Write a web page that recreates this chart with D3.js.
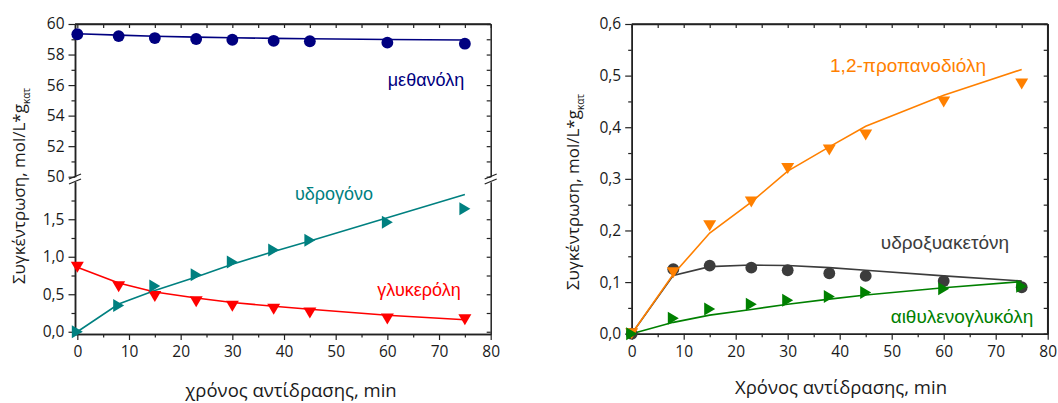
<!DOCTYPE html>
<html>
<head>
<meta charset="utf-8">
<script src="https://cdn.jsdelivr.net/npm/d3@7"></script>
<style>
  body { margin: 0; background: #fff; }
  svg { display: block; }
</style>
</head>
<body>
<script>
// sampling times (min), same for both panels
var times = [0, 8, 15, 23, 30, 38, 45, 60, 75];

// left panel
var methanol = [59.33, 59.21, 59.08, 59.02, 58.97, 58.90, 58.87, 58.78, 58.71];
var methanolFit = [59.36, 59.27, 59.20, 59.14, 59.10, 59.06, 59.03, 58.98, 58.95];
var hydrogen = [0.0, 0.35, 0.61, 0.76, 0.93, 1.09, 1.22, 1.46, 1.64];
var hydrogenFit = [0.0, 0.37, 0.55, 0.73, 0.90, 1.07, 1.21, 1.52, 1.83];
var glycerol = [0.86, 0.60, 0.47, 0.40, 0.34, 0.30, 0.25, 0.17, 0.16];
var glycerolFit = [0.86, 0.65, 0.53, 0.45, 0.39, 0.34, 0.30, 0.22, 0.16];

// right panel
var propanediol = [0, 0.118, 0.209, 0.255, 0.320, 0.356, 0.385, 0.449, 0.484];
var propanediolFit = [0, 0.115, 0.195, 0.255, 0.315, 0.362, 0.402, 0.462, 0.512];
var hydroxyacetone = [0, 0.125, 0.132, 0.128, 0.123, 0.117, 0.112, 0.102, 0.090];
var hydroxyacetoneFit = [0, 0.113, 0.130, 0.133, 0.132, 0.128, 0.123, 0.112, 0.102];
var ethyleneGlycol = [0, 0.030, 0.048, 0.057, 0.065, 0.072, 0.080, 0.087, 0.092];
var ethyleneGlycolFit = [0, 0.022, 0.036, 0.047, 0.057, 0.067, 0.075, 0.089, 0.101];

// ticks
var xTicks = [0, 10, 20, 30, 40, 50, 60, 70, 80];
var xMinor = [5, 15, 25, 35, 45, 55, 65, 75];
var topTicks = [50, 52, 54, 56, 58, 60];
var topMinor = [51, 53, 55, 57, 59];
var bottomTicks = [0, 0.5, 1.0, 1.5];
var bottomMinor = [0.25, 0.75, 1.25, 1.75];
var rightTicks = [0, 0.1, 0.2, 0.3, 0.4, 0.5, 0.6];
var rightMinor = [0.05, 0.15, 0.25, 0.35, 0.45, 0.55];

var tickFont = "'Open Sans', sans-serif";
var labelFont = "'Liberation Sans', Arial, sans-serif";
var comma = function(d) { return d3.format(".1f")(d).replace(".", ","); };

var svg = d3.select("body").append("svg")
    .attr("width", 1058)
    .attr("height", 403);

svg.append("rect").attr("width", 1058).attr("height", 403).attr("fill", "#fff");

// scales
var xLeft = d3.scaleLinear().domain([-0.45, 80]).range([75, 490.7]);
var yTop = d3.scaleLinear().domain([50, 60]).range([176.7, 24]);
var yBottom = d3.scaleLinear().domain([-0.03, 2.0]).range([334, 181.75]);
var xRight = d3.scaleLinear().domain([0, 80]).range([631.7, 1047.7]);
var yRight = d3.scaleLinear().domain([0, 0.6]).range([333.7, 24]);

function styleAxis(g, labels) {
  g.select(".domain").attr("stroke", "#222").attr("stroke-width", 1.5);
  g.selectAll(".tick line").attr("stroke", "#222").attr("stroke-width", 1.2);
  g.selectAll("text")
    .attr("font-family", tickFont)
    .attr("font-size", "15.5px")
    .attr("fill", "#1a1a1a");
  if (!labels) g.selectAll("text").remove();
}

function drawAxis(axis, tx, ty, labels) {
  var g = svg.append("g")
      .attr("transform", "translate(" + tx + "," + ty + ")")
      .call(axis);
  styleAxis(g, labels);
  return g;
}

function xAxes(x, yPos, yTopPos) {
  drawAxis(d3.axisBottom(x).tickValues(xTicks).tickSize(6).tickSizeOuter(0).tickPadding(6), 0, yPos, true);
  drawAxis(d3.axisBottom(x).tickValues(xMinor).tickSize(3.5).tickSizeOuter(0).tickFormat(""), 0, yPos, false);
  // mirror ticks on the top frame, pointing inward
  drawAxis(d3.axisBottom(x).tickValues(xTicks.concat(xMinor)).tickSize(4).tickSizeOuter(0).tickFormat(""), 0, yTopPos, false);
}

function yAxes(y, major, minor, xPos, xRightPos, fmt) {
  drawAxis(d3.axisLeft(y).tickValues(major).tickSize(6.5).tickSizeOuter(0).tickPadding(4).tickFormat(fmt), xPos, 0, true);
  drawAxis(d3.axisLeft(y).tickValues(minor).tickSize(3.5).tickSizeOuter(0).tickFormat(""), xPos, 0, false);
  // mirror ticks on the right frame, pointing inward
  drawAxis(d3.axisRight(y).tickValues(major.concat(minor)).tickSize(-4).tickSizeOuter(0).tickFormat(""), xRightPos, 0, false);
}

function breakMarks(cx, ys) {
  ys.forEach(function(cy) {
    svg.append("line")
      .attr("x1", cx - 6).attr("y1", cy + 2.5)
      .attr("x2", cx + 6).attr("y2", cy - 2.5)
      .attr("stroke", "#222").attr("stroke-width", 1.3);
  });
}

function fitLine(x, y, values, color) {
  var line = d3.line()
      .x(function(d, i) { return x(times[i]); })
      .y(function(d) { return y(d); });
  svg.append("path")
    .datum(values)
    .attr("d", line)
    .attr("fill", "none")
    .attr("stroke", color)
    .attr("stroke-width", 1.6);
}

function markerPath(shape) {
  if (shape == "down") return "M-6.5,-5.5L6.5,-5.5L0,5.5Z";
  if (shape == "right") return "M-5.5,-6.5L5.5,0L-5.5,6.5Z";
  return d3.symbol().type(d3.symbolCircle).size(110)();
}

function markers(x, y, values, color, shape) {
  svg.append("g").selectAll("path")
    .data(values)
    .enter()
    .append("path")
    .attr("d", markerPath(shape))
    .attr("transform", function(d, i) {
      return "translate(" + x(times[i]) + "," + y(d) + ")";
    })
    .attr("fill", color);
}

function seriesLabel(x, y, text, color, size) {
  svg.append("text")
    .attr("x", x).attr("y", y)
    .attr("text-anchor", "middle")
    .attr("font-family", labelFont)
    .attr("font-size", size + "px")
    .attr("fill", color)
    .text(text);
}

function yTitle(cx, cy) {
  var t = svg.append("text")
    .attr("transform", "translate(" + cx + "," + cy + ") rotate(-90)")
    .attr("text-anchor", "middle")
    .attr("font-family", tickFont)
    .attr("font-size", "17px")
    .attr("fill", "#1a1a1a");
  t.append("tspan").text("Συγκέντρωση, mol/L*g");
  t.append("tspan").attr("font-size", "10px").attr("dy", 5).text("κατ");
}

function xTitle(cx, cy, text) {
  svg.append("text")
    .attr("x", cx).attr("y", cy)
    .attr("text-anchor", "middle")
    .attr("font-family", tickFont)
    .attr("font-size", "18.5px")
    .attr("fill", "#1a1a1a")
    .text(text);
}

// ---------- left panel ----------
var L = xLeft.range();
svg.append("line").attr("x1", L[0]).attr("x2", L[1]).attr("y1", 24).attr("y2", 24)
  .attr("stroke", "#222").attr("stroke-width", 1.5);
xAxes(xLeft, 334, 24);
yAxes(yTop, topTicks, topMinor, L[0], L[1], d3.format("d"));
yAxes(yBottom, bottomTicks, bottomMinor, L[0], L[1], comma);
breakMarks(L[0], [176.5, 181.5]);
breakMarks(L[1], [176.5, 181.5]);

fitLine(xLeft, yTop, methanolFit, "#000080");
fitLine(xLeft, yBottom, hydrogenFit, "#008080");
fitLine(xLeft, yBottom, glycerolFit, "#ff0000");
markers(xLeft, yTop, methanol, "#000080", "circle");
markers(xLeft, yBottom, glycerol, "#ff0000", "down");
markers(xLeft, yBottom, hydrogen, "#008080", "right");

seriesLabel(426, 86, "μεθανόλη", "#000080", 18);
seriesLabel(334, 200, "υδρογόνο", "#008080", 18);
seriesLabel(419, 296, "γλυκερόλη", "#ff0000", 18);

yTitle(25, 186);
xTitle(291, 397, "χρόνος αντίδρασης, min");

// ---------- right panel ----------
var R = xRight.range();
svg.append("line").attr("x1", R[0]).attr("x2", R[1]).attr("y1", 24).attr("y2", 24)
  .attr("stroke", "#222").attr("stroke-width", 1.5);
svg.append("line").attr("x1", R[1]).attr("x2", R[1]).attr("y1", 24).attr("y2", yRight(0))
  .attr("stroke", "#222").attr("stroke-width", 1.5);
xAxes(xRight, yRight(0), 24);
yAxes(yRight, rightTicks, rightMinor, R[0], R[1], comma);

fitLine(xRight, yRight, hydroxyacetoneFit, "#3c3c3c");
fitLine(xRight, yRight, propanediolFit, "#ff8000");
fitLine(xRight, yRight, ethyleneGlycolFit, "#008000");
markers(xRight, yRight, hydroxyacetone, "#3c3c3c", "circle");
markers(xRight, yRight, propanediol, "#ff8000", "down");
markers(xRight, yRight, ethyleneGlycol, "#008000", "right");

seriesLabel(908, 72, "1,2-προπανοδιόλη", "#ff8000", 19);
seriesLabel(945, 249, "υδροξυακετόνη", "#3c3c3c", 19);
seriesLabel(962, 323, "αιθυλενογλυκόλη", "#008000", 19);

yTitle(579, 192);
xTitle(841, 394, "Χρόνος αντίδρασης, min");
</script>
</body>
</html>
